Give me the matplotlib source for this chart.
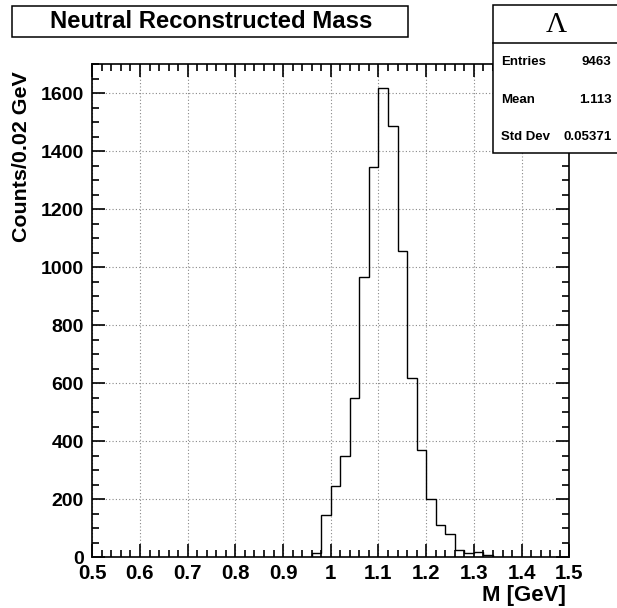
import numpy as np
import matplotlib
matplotlib.use('Agg')
import matplotlib.pyplot as plt
from matplotlib.patches import Rectangle
from matplotlib.ticker import MultipleLocator, FuncFormatter

plt.rcParams['font.family'] = ['Liberation Sans', 'DejaVu Sans']
plt.rcParams['font.weight'] = 'bold'

# histogram: 0.02 GeV bins starting at 0.96
bin_start = 0.96
bin_width = 0.02
counts = [15, 147, 245, 348, 551, 965, 1347, 1617, 1488, 1056,
          617, 369, 200, 110, 82, 26, 15, 18, 7]
edges = bin_start + bin_width * np.arange(len(counts) + 1)

title = 'Neutral Reconstructed Mass'
stats_title = '\u039b'
stats_names = ['Entries', 'Mean', 'Std Dev']
stats_values = ['9463', '1.113', '0.05371']

W, H = 617, 608
fig = plt.figure(figsize=(W / 100, H / 100), dpi=100)


def fx(px):
    return px / W


def fy(py):
    return 1 - py / H


ax = fig.add_axes([fx(92.3), fy(557.3), fx(569.3) - fx(92.3), fy(64.3) - fy(557.3)])
ax.stairs(counts, edges, color='black', lw=1.0, zorder=3)
ax.set_xlim(0.5, 1.5)
ax.set_ylim(0, 1700)

ax.xaxis.set_major_locator(MultipleLocator(0.1))
ax.xaxis.set_minor_locator(MultipleLocator(0.02))
ax.yaxis.set_major_locator(MultipleLocator(200))
ax.yaxis.set_minor_locator(MultipleLocator(50))
ax.xaxis.set_major_formatter(FuncFormatter(lambda v, p: '%g' % round(v, 2)))
ax.yaxis.set_major_formatter(FuncFormatter(lambda v, p: '%d' % v))

ax.tick_params(which='both', direction='in', top=True, right=True, width=1.2)
ax.tick_params(which='major', length=9.5)
ax.tick_params(which='minor', length=5)
ax.tick_params(axis='x', pad=5, labelsize=14.8)
ax.tick_params(axis='y', pad=6, labelsize=14)
for s in ax.spines.values():
    s.set_linewidth(1.2)

ax.grid(which='major', linestyle=(0, (1, 2)), color='#888888', lw=0.8)
ax.set_axisbelow(True)

# axis titles
fig.text(fx(566), fy(606), 'M [GeV]', ha='right', va='bottom', fontsize=16)
fig.text(fx(22), fy(71), 'Counts/0.02 GeV', ha='center', va='top',
         rotation=90, fontsize=15.4)

# title box
fig.add_artist(Rectangle((fx(12), fy(36.7)), fx(408) - fx(12), fy(5.7) - fy(36.7),
                         transform=fig.transFigure, facecolor='white',
                         edgecolor='black', lw=1.1))
fig.text(fx(211), fy(21.5), title, ha='center', va='center', fontsize=17.2)

# stats box
fig.add_artist(Rectangle((fx(493.5), fy(153.3)), 0.3, fy(5) - fy(153.3),
                         transform=fig.transFigure, facecolor='white',
                         edgecolor='black', lw=1.1, zorder=5))
fig.add_artist(plt.Line2D([fx(493.5), 1.0], [fy(42.7), fy(42.7)],
                          transform=fig.transFigure, color='black', lw=1.1, zorder=6))
fig.text(fx(556.7), fy(25), stats_title, ha='center', va='center',
         fontsize=21, family='Liberation Serif', weight='normal', zorder=7)
row_y = [62.3, 100, 136.7]
for name, val, py in zip(stats_names, stats_values, row_y):
    fig.text(fx(500.7), fy(py), name, ha='left', va='center', fontsize=9.5, zorder=7)
    fig.text(fx(611.7), fy(py), val, ha='right', va='center', fontsize=9.5, zorder=7)

fig.savefig('out.png', dpi=100)
